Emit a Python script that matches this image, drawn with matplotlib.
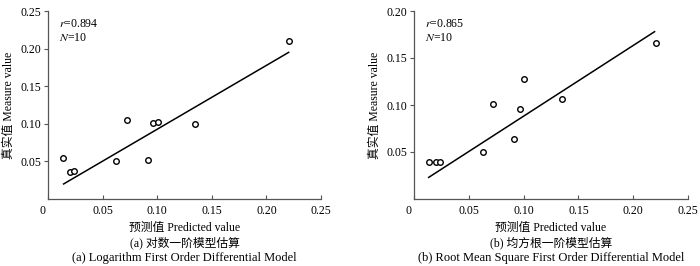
import numpy as np
import matplotlib.pyplot as plt
import matplotlib.transforms as mtransforms

plt.rcParams['font.family'] = ['Liberation Serif', 'Noto Sans CJK SC']
plt.rcParams['mathtext.fontset'] = 'stix'

# predicted values (same for both panels)
predicted = [0.0137, 0.0204, 0.0241, 0.0625, 0.0720, 0.0915, 0.0966, 0.1003, 0.1348, 0.2207]
# measured values
measured_log = [0.0545, 0.0355, 0.0372, 0.0505, 0.1046, 0.0519, 0.1010, 0.1028, 0.1002, 0.2105]
measured_rms = [0.0394, 0.0394, 0.0394, 0.0496, 0.1007, 0.0638, 0.0957, 0.1273, 0.1060, 0.1663]
# fitted line endpoints
fit_x_log = [0.0143, 0.2204]
fit_y_log = [0.020, 0.195]
fit_x_rms = [0.0134, 0.2195]
fit_y_rms = [0.023, 0.178]

x_ticks = [0, 0.05, 0.10, 0.15, 0.20, 0.25]
x_ticklabels = ["0", "0.05", "0.10", "0.15", "0.20", "0.25"]
y_ticks_log = [0.05, 0.10, 0.15, 0.20, 0.25]
y_ticks_rms = [0.05, 0.10, 0.15, 0.20]

stats_log = ("0.894", "10")
stats_rms = ("0.865", "10")
captions_log = ("(a) 对数一阶模型估算", "(a) Logarithm First Order Differential Model")
captions_rms = ("(b) 均方根一阶模型估算", "(b) Root Mean Square First Order Differential Model")

fig = plt.figure(figsize=(7.0, 2.66), dpi=100)
fs = 8.5
spine_col = "#555555"


def draw_panel(rect, meas, fx, fy, yticks, ymax, stats, caps):
    ax = fig.add_axes(rect)
    ax.plot(predicted, meas, linestyle="none", marker="o", markersize=4,
            markerfacecolor="white", markeredgecolor="black", markeredgewidth=1.0)
    ax.plot(fx, fy, color="black", linewidth=1.1)
    ax.set_xlim(0, 0.25)
    ax.set_ylim(0, ymax)
    ax.set_xticks(x_ticks)
    ax.set_xticklabels(x_ticklabels, fontsize=fs)
    ax.set_yticks(yticks)
    ax.set_yticklabels([f"{v:.2f}" for v in yticks], fontsize=fs)
    for s in ("top", "right"):
        ax.spines[s].set_visible(False)
    for s in ("left", "bottom"):
        ax.spines[s].set_color(spine_col)
        ax.spines[s].set_linewidth(0.9)
    ax.tick_params(axis="x", direction="in", length=3, width=0.8, color=spine_col, pad=4)
    ax.tick_params(axis="y", direction="out", length=3, width=0.8, color=spine_col, pad=2)
    # shift the "0" label left
    lab0 = ax.get_xticklabels()[0]
    lab0.set_transform(lab0.get_transform() +
                       mtransforms.ScaledTranslation(-6 / 100, 0, fig.dpi_scale_trans))
    ax.set_xlabel("预测值 Predicted value", fontsize=fs, labelpad=4)
    ax.set_ylabel("真实值 Measure value", fontsize=fs, labelpad=4)
    ax.text(0.04, 0.93, f"$r$={stats[0]}", transform=ax.transAxes, fontsize=fs, va="center")
    ax.text(0.04, 0.855, f"$N$={stats[1]}", transform=ax.transAxes, fontsize=fs, va="center")
    cx = rect[0] + rect[2] / 2
    fig.text(cx, 1 - 243 / 266, caps[0], ha="center", va="center", fontsize=fs)
    fig.text(cx, 1 - 258 / 266, caps[1], ha="center", va="center", fontsize=9)
    return ax


draw_panel([48 / 700, 67 / 266, 273 / 700, 188 / 266], measured_log,
           fit_x_log, fit_y_log, y_ticks_log, 0.25, stats_log, captions_log)
draw_panel([414 / 700, 67 / 266, 274 / 700, 188 / 266], measured_rms,
           fit_x_rms, fit_y_rms, y_ticks_rms, 0.20, stats_rms, captions_rms)

fig.savefig("out.png", dpi=100)
